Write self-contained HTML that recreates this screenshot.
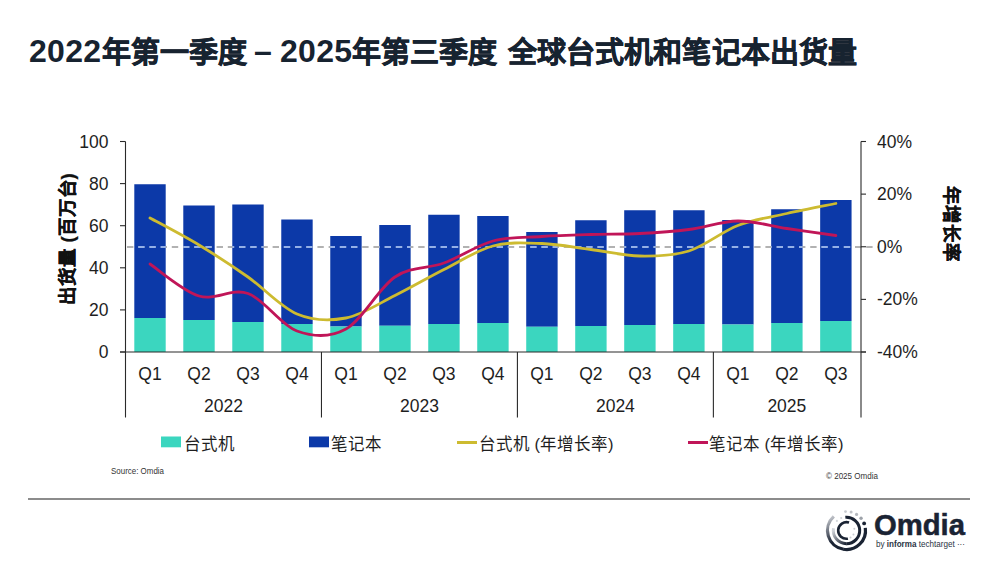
<!DOCTYPE html>
<html lang="zh-CN"><head><meta charset="utf-8">
<style>
html,body{margin:0;padding:0;background:#fff;}
body{width:1000px;height:562px;position:relative;overflow:hidden;font-family:"Liberation Sans",sans-serif;}
.t{position:absolute;top:0;height:80px;line-height:80px;font-weight:bold;color:#172330;white-space:nowrap;}
.d{font-size:32px;letter-spacing:0.3px;top:10.5px}
.c{font-size:29px;top:13px;-webkit-text-stroke:0.6px #172330}
svg{position:absolute;left:0;top:0;}
svg text{font-family:"Liberation Sans",sans-serif;}
</style></head>
<body>
<div class="t d" style="left:29px">2022</div><div class="t c" style="left:102px">年第一季度</div><div class="t d" style="left:254px">–</div><div class="t d" style="left:280px">2025</div><div class="t c" style="left:352px">年第三季度</div><div class="t c" style="left:507.5px;letter-spacing:0.15px">全球台式机和笔记本出货量</div>
<svg width="1000" height="562" viewBox="0 0 1000 562">
<defs><clipPath id="bc"><rect x="134.30" y="240" width="31.40" height="15"/><rect x="183.29" y="240" width="31.40" height="15"/><rect x="232.28" y="240" width="31.40" height="15"/><rect x="281.27" y="240" width="31.40" height="15"/><rect x="330.26" y="240" width="31.40" height="15"/><rect x="379.25" y="240" width="31.40" height="15"/><rect x="428.24" y="240" width="31.40" height="15"/><rect x="477.23" y="240" width="31.40" height="15"/><rect x="526.22" y="240" width="31.40" height="15"/><rect x="575.21" y="240" width="31.40" height="15"/><rect x="624.20" y="240" width="31.40" height="15"/><rect x="673.19" y="240" width="31.40" height="15"/><rect x="722.18" y="240" width="31.40" height="15"/><rect x="771.17" y="240" width="31.40" height="15"/><rect x="820.16" y="240" width="31.40" height="15"/></clipPath></defs>
<rect x="134.30" y="184.25" width="31.40" height="133.75" fill="#0c39a8"/>
<rect x="134.30" y="318.00" width="31.40" height="34.00" fill="#3bd6bf"/>
<rect x="183.29" y="205.50" width="31.40" height="114.50" fill="#0c39a8"/>
<rect x="183.29" y="320.00" width="31.40" height="32.00" fill="#3bd6bf"/>
<rect x="232.28" y="204.50" width="31.40" height="117.50" fill="#0c39a8"/>
<rect x="232.28" y="322.00" width="31.40" height="30.00" fill="#3bd6bf"/>
<rect x="281.27" y="219.50" width="31.40" height="104.50" fill="#0c39a8"/>
<rect x="281.27" y="324.00" width="31.40" height="28.00" fill="#3bd6bf"/>
<rect x="330.26" y="236.00" width="31.40" height="90.50" fill="#0c39a8"/>
<rect x="330.26" y="326.50" width="31.40" height="25.50" fill="#3bd6bf"/>
<rect x="379.25" y="225.00" width="31.40" height="100.75" fill="#0c39a8"/>
<rect x="379.25" y="325.75" width="31.40" height="26.25" fill="#3bd6bf"/>
<rect x="428.24" y="214.75" width="31.40" height="109.25" fill="#0c39a8"/>
<rect x="428.24" y="324.00" width="31.40" height="28.00" fill="#3bd6bf"/>
<rect x="477.23" y="216.00" width="31.40" height="107.00" fill="#0c39a8"/>
<rect x="477.23" y="323.00" width="31.40" height="29.00" fill="#3bd6bf"/>
<rect x="526.22" y="232.00" width="31.40" height="94.75" fill="#0c39a8"/>
<rect x="526.22" y="326.75" width="31.40" height="25.25" fill="#3bd6bf"/>
<rect x="575.21" y="220.25" width="31.40" height="105.75" fill="#0c39a8"/>
<rect x="575.21" y="326.00" width="31.40" height="26.00" fill="#3bd6bf"/>
<rect x="624.20" y="210.25" width="31.40" height="114.75" fill="#0c39a8"/>
<rect x="624.20" y="325.00" width="31.40" height="27.00" fill="#3bd6bf"/>
<rect x="673.19" y="210.25" width="31.40" height="113.75" fill="#0c39a8"/>
<rect x="673.19" y="324.00" width="31.40" height="28.00" fill="#3bd6bf"/>
<rect x="722.18" y="220.00" width="31.40" height="104.50" fill="#0c39a8"/>
<rect x="722.18" y="324.50" width="31.40" height="27.50" fill="#3bd6bf"/>
<rect x="771.17" y="209.25" width="31.40" height="113.75" fill="#0c39a8"/>
<rect x="771.17" y="323.00" width="31.40" height="29.00" fill="#3bd6bf"/>
<rect x="820.16" y="200.00" width="31.40" height="121.00" fill="#0c39a8"/>
<rect x="820.16" y="321.00" width="31.40" height="31.00" fill="#3bd6bf"/>
<line x1="127" y1="247" x2="878" y2="247" stroke="#999" stroke-width="1.3" stroke-dasharray="6.4 4.8"/>
<line x1="127" y1="247" x2="878" y2="247" stroke="#9fc0ff" stroke-width="1.3" stroke-dasharray="6.4 4.8" clip-path="url(#bc)"/>
<g stroke="#2a2a2a" stroke-width="1.1" fill="none">
<line x1="125.5" y1="141.5" x2="125.5" y2="417.5"/>
<line x1="861" y1="141.5" x2="861" y2="417.5"/>
<line x1="120" y1="352" x2="866" y2="352"/>
<line x1="120" y1="141.50" x2="125.5" y2="141.50"/>
<line x1="120" y1="183.60" x2="125.5" y2="183.60"/>
<line x1="120" y1="225.70" x2="125.5" y2="225.70"/>
<line x1="120" y1="267.80" x2="125.5" y2="267.80"/>
<line x1="120" y1="309.90" x2="125.5" y2="309.90"/>
<line x1="120" y1="352.00" x2="125.5" y2="352.00"/>
<line x1="861" y1="141.50" x2="866" y2="141.50"/>
<line x1="861" y1="194.12" x2="866" y2="194.12"/>
<line x1="861" y1="246.75" x2="866" y2="246.75"/>
<line x1="861" y1="299.38" x2="866" y2="299.38"/>
<line x1="861" y1="352.00" x2="866" y2="352.00"/>
<line x1="321.47" y1="352" x2="321.47" y2="417.5"/><line x1="517.42" y1="352" x2="517.42" y2="417.5"/><line x1="713.38" y1="352" x2="713.38" y2="417.5"/>
</g>
<path d="M150.00,218.00 C158.16,222.50 182.66,235.17 198.99,245.00 C215.32,254.83 231.65,265.50 247.98,277.00 C264.31,288.50 280.64,307.17 296.97,314.00 C313.30,320.83 329.63,321.08 345.96,318.00 C362.29,314.92 378.62,303.58 394.95,295.50 C411.28,287.42 427.61,277.75 443.94,269.50 C460.27,261.25 476.60,250.33 492.93,246.00 C509.26,241.67 525.59,242.92 541.92,243.50 C558.25,244.08 574.58,247.42 590.91,249.50 C607.24,251.58 623.57,255.75 639.90,256.00 C656.23,256.25 672.56,256.08 688.89,251.00 C705.22,245.92 721.55,231.75 737.88,225.50 C754.21,219.25 770.54,217.17 786.87,213.50 C803.20,209.83 827.70,205.17 835.86,203.50" fill="none" stroke="#cdbb30" stroke-width="2.8" stroke-linecap="round"/>
<path d="M150.00,264.00 C158.16,269.33 182.66,291.08 198.99,296.00 C215.32,300.92 231.65,287.67 247.98,293.50 C264.31,299.33 280.64,325.08 296.97,331.00 C313.30,336.92 329.63,338.00 345.96,329.00 C362.29,320.00 378.62,288.00 394.95,277.00 C411.28,266.00 427.61,269.00 443.94,263.00 C460.27,257.00 476.60,245.42 492.93,241.00 C509.26,236.58 525.59,237.58 541.92,236.50 C558.25,235.42 574.58,235.00 590.91,234.50 C607.24,234.00 623.57,234.33 639.90,233.50 C656.23,232.67 672.56,231.58 688.89,229.50 C705.22,227.42 721.55,221.17 737.88,221.00 C754.21,220.83 770.54,226.08 786.87,228.50 C803.20,230.92 827.70,234.33 835.86,235.50" fill="none" stroke="#c01558" stroke-width="2.8" stroke-linecap="round"/>
<g font-size="17.5" fill="#1e1e1e">
<text x="108.5" y="147.50" text-anchor="end">100</text>
<text x="108.5" y="189.60" text-anchor="end">80</text>
<text x="108.5" y="231.70" text-anchor="end">60</text>
<text x="108.5" y="273.80" text-anchor="end">40</text>
<text x="108.5" y="315.90" text-anchor="end">20</text>
<text x="108.5" y="358.00" text-anchor="end">0</text>
<text x="877" y="147.50">40%</text>
<text x="877" y="200.12">20%</text>
<text x="877" y="252.75">0%</text>
<text x="877" y="305.38">-20%</text>
<text x="877" y="358.00">-40%</text>
<text x="150.00" y="379.5" text-anchor="middle">Q1</text>
<text x="198.99" y="379.5" text-anchor="middle">Q2</text>
<text x="247.98" y="379.5" text-anchor="middle">Q3</text>
<text x="296.97" y="379.5" text-anchor="middle">Q4</text>
<text x="345.96" y="379.5" text-anchor="middle">Q1</text>
<text x="394.95" y="379.5" text-anchor="middle">Q2</text>
<text x="443.94" y="379.5" text-anchor="middle">Q3</text>
<text x="492.93" y="379.5" text-anchor="middle">Q4</text>
<text x="541.92" y="379.5" text-anchor="middle">Q1</text>
<text x="590.91" y="379.5" text-anchor="middle">Q2</text>
<text x="639.90" y="379.5" text-anchor="middle">Q3</text>
<text x="688.89" y="379.5" text-anchor="middle">Q4</text>
<text x="737.88" y="379.5" text-anchor="middle">Q1</text>
<text x="786.87" y="379.5" text-anchor="middle">Q2</text>
<text x="835.86" y="379.5" text-anchor="middle">Q3</text>
<text x="223.49" y="412" text-anchor="middle">2022</text>
<text x="419.44" y="412" text-anchor="middle">2023</text>
<text x="615.40" y="412" text-anchor="middle">2024</text>
<text x="786.87" y="412" text-anchor="middle">2025</text>
</g>
<text transform="translate(74,239) rotate(-90)" text-anchor="middle" font-size="18.5" font-weight="bold" fill="#111" stroke="#111" stroke-width="0.3">出货量 (百万台)</text>
<text transform="translate(945,224) rotate(90)" text-anchor="middle" font-size="18.5" font-weight="bold" fill="#111" stroke="#111" stroke-width="0.3">年增长率</text>
<!-- legend -->
<rect x="161" y="436.5" width="20" height="10.8" fill="#3bd6bf"/>
<text x="184" y="449.7" font-size="16.5" fill="#1e1e1e">台式机</text>
<rect x="309" y="436.5" width="20" height="10.8" fill="#0c39a8"/>
<text x="331" y="449.7" font-size="16.5" fill="#1e1e1e">笔记本</text>
<line x1="457" y1="442.5" x2="477" y2="442.5" stroke="#cdbb30" stroke-width="3"/>
<text x="479" y="449.7" font-size="16.5" fill="#1e1e1e">台式机 (年增长率)</text>
<line x1="688" y1="442.5" x2="708" y2="442.5" stroke="#c01558" stroke-width="3"/>
<text x="709" y="449.7" font-size="16.5" fill="#1e1e1e">笔记本 (年增长率)</text>
<text x="111" y="474" font-size="9" fill="#333" textLength="53" lengthAdjust="spacingAndGlyphs">Source: Omdia</text>
<text x="826" y="478.5" font-size="9" fill="#333" textLength="52" lengthAdjust="spacingAndGlyphs">© 2025 Omdia</text>
<line x1="28" y1="499" x2="970" y2="499" stroke="#666" stroke-width="1.3"/>
<!-- logo -->
<defs><linearGradient id="lgo" gradientUnits="userSpaceOnUse" x1="830" y1="512" x2="842" y2="538"><stop offset="0" stop-color="#e2e4e8"/><stop offset="1" stop-color="#1a2333"/></linearGradient><linearGradient id="lgm" gradientUnits="userSpaceOnUse" x1="834" y1="530" x2="846" y2="544"><stop offset="0" stop-color="#cfd2d7"/><stop offset="1" stop-color="#1a2333"/></linearGradient></defs><path d="M865.32,527.86 A19.00,19.00 0 0 1 843.20,549.21" stroke="#1a2333" stroke-width="3.2" fill="none"/><path d="M843.53,549.27 A19.00,19.00 0 0 1 833.79,516.38" stroke="url(#lgo)" stroke-width="3.2" fill="none"/><circle cx="845.51" cy="511.53" r="1.40" fill="#c9ccd1"/><circle cx="851.10" cy="512.06" r="1.50" fill="#c0c3c8"/><circle cx="856.57" cy="514.39" r="1.60" fill="#b5b9bf"/><circle cx="861.05" cy="518.29" r="1.70" fill="#9da2a9"/><circle cx="864.12" cy="523.38" r="1.90" fill="#1a2333"/><path d="M845.35,517.35 A13.20,13.20 0 1 1 846.50,543.70" stroke="#1a2333" stroke-width="3" fill="none"/><path d="M846.73,543.70 A13.20,13.20 0 0 1 833.50,528.21" stroke="url(#lgm)" stroke-width="3" fill="none"/><circle cx="836.88" cy="520.88" r="1.10" fill="#d5d8dc"/><circle cx="841.19" cy="517.98" r="1.10" fill="#d0d3d7"/><path d="M847.94,538.67 A8.30,8.30 0 1 1 849.06,522.61" stroke="#1a2333" stroke-width="2.6" fill="none"/><circle cx="854.29" cy="528.70" r="1.00" fill="#c8cbd0"/><circle cx="853.43" cy="534.50" r="1.00" fill="#c8cbd0"/><circle cx="850.50" cy="537.43" r="1.00" fill="#c8cbd0"/>
<text x="874" y="534.7" font-size="29" font-weight="bold" fill="#1a2333" stroke="#1a2333" stroke-width="0.5" textLength="91" lengthAdjust="spacingAndGlyphs">Omdia</text>
<text x="876" y="547" font-size="9" fill="#2a3343" textLength="89" lengthAdjust="spacingAndGlyphs">by <tspan font-weight="bold">informa</tspan> techtarget ···</text>
</svg>
</body></html>
